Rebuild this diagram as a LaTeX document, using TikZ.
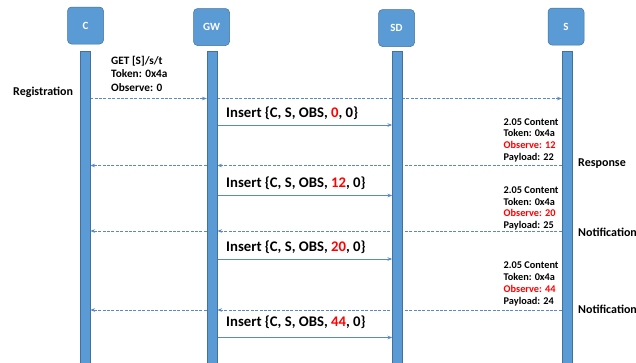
\documentclass[tikz,border=0pt]{standalone}
\usepackage{fontspec}
\setmainfont{Carlito}
\usetikzlibrary{arrows.meta}
\definecolor{boxblue}{HTML}{5B9BD5}
\definecolor{boxedge}{HTML}{41719C}
\definecolor{linkblue}{HTML}{5A8AC6}
\definecolor{obsred}{HTML}{FF0000}
\pgfdeclarelayer{bg}
\pgfsetlayers{bg,main}
\begin{document}
\begin{tikzpicture}[x=1pt,y=-1pt,
  head/.style={draw=boxedge, line width=0.5pt, fill=boxblue, rounded corners=4pt,
    minimum width=36pt, minimum height=37pt, inner sep=0pt, text=white,
    font=\bfseries\fontsize{11}{13}\selectfont},
  lifebar/.style={draw=boxedge, line width=0.3pt, fill=boxblue, minimum width=10pt,
    minimum height=313pt, inner sep=0pt, anchor=north},
  req/.style={linkblue, line width=0.9pt, dash pattern=on 3pt off 1.4pt,
    -{Stealth[length=5pt,width=3.6pt]}},
  ins/.style={linkblue, line width=1pt, -{Stealth[length=5pt,width=3.6pt]}},
  sidelbl/.style={font=\bfseries\fontsize{12}{14}\selectfont, inner sep=0pt, anchor=west},
  getlbl/.style={font=\bfseries\fontsize{11.3}{13.2}\selectfont, inner sep=0pt, anchor=base west},
  resplbl/.style={font=\bfseries\fontsize{10.3}{12}\selectfont, inner sep=0pt, anchor=base west},
  inslbl/.style={font=\bfseries\fontsize{14.7}{17}\selectfont, inner sep=0pt, anchor=west},
]
\useasboundingbox (0,0) rectangle (636,362);

% header boxes
\node[head] (hC)  at (85.5,25.5) {C};
\node[head] (hGW) at (211.5,27) {GW};
\node[head] (hSD) at (396.5,28) {SD};
\node[head] (hS)  at (566,26.5) {S};

% lifeline bars
\node[lifebar] (bC)  at (85,51) {};
\node[lifebar] (bGW) at (212,51) {};
\node[lifebar] (bSD) at (397.5,51) {};
\node[lifebar] (bS)  at (567,51) {};

% message rows
\coordinate (m1) at (0,98.5);
\coordinate (m2) at (0,125);
\coordinate (m3) at (0,165.5);
\coordinate (m4) at (0,195.5);
\coordinate (m5) at (0,231);
\coordinate (m6) at (0,259);
\coordinate (m7) at (0,310);
\coordinate (m8) at (0,337.5);

\begin{pgfonlayer}{bg}
\draw[req] (bC.east |- m1) -- (bGW.west |- m1);
\draw[req] (bGW.east |- m1) -- (bS.west |- m1);
\draw[ins] (bGW.east |- m2) -- (bSD.west |- m2);
\draw[req] (bS.west |- m3) -- (bGW.east |- m3);
\draw[req] (bGW.west |- m3) -- (bC.east |- m3);
\draw[ins] (bGW.east |- m4) -- (bSD.west |- m4);
\draw[req] (bS.west |- m5) -- (bGW.east |- m5);
\draw[req] (bGW.west |- m5) -- (bC.east |- m5);
\draw[ins] (bGW.east |- m6) -- (bSD.west |- m6);
\draw[req] (bS.west |- m7) -- (bGW.east |- m7);
\draw[req] (bGW.west |- m7) -- (bC.east |- m7);
\draw[ins] (bGW.east |- m8) -- (bSD.west |- m8);
\end{pgfonlayer}

% labels
\node[sidelbl] (reg) at (13,92) {Registration};
\node[getlbl] (get1) at (111,64) {GET [S]/s/t};
\node[getlbl] (get2) at (111,77.8) {Token: 0x4a};
\node[getlbl] (get3) at (111,91.6) {Observe: 0};

\node[inslbl] (i1) at (226,113) {Insert \{C, S, OBS, \textcolor{obsred}{0}, 0\}};
\node[inslbl] (i2) at (226,183.5) {Insert \{C, S, OBS, \textcolor{obsred}{12}, 0\}};
\node[inslbl] (i3) at (226,247.5) {Insert \{C, S, OBS, \textcolor{obsred}{20}, 0\}};
\node[inslbl] (i4) at (226,322.5) {Insert \{C, S, OBS, \textcolor{obsred}{44}, 0\}};

\node[resplbl] (r1a) at (503.5,125) {2.05 Content};
\node[resplbl] (r1b) at (503.5,136.8) {Token: 0x4a};
\node[resplbl, text=obsred] (r1c) at (503.5,148.5) {Observe: 12};
\node[resplbl] (r1d) at (503.5,160) {Payload: 22};

\node[resplbl] (r2a) at (503.5,193.2) {2.05 Content};
\node[resplbl] (r2b) at (503.5,205) {Token: 0x4a};
\node[resplbl, text=obsred] (r2c) at (503.5,216.8) {Observe: 20};
\node[resplbl] (r2d) at (503.5,228.5) {Payload: 25};

\node[resplbl] (r3a) at (503.5,268) {2.05 Content};
\node[resplbl] (r3b) at (503.5,280) {Token: 0x4a};
\node[resplbl, text=obsred] (r3c) at (503.5,292.2) {Observe: 44};
\node[resplbl] (r3d) at (503.5,304.2) {Payload: 24};

\node[sidelbl] (resp) at (578,164) {Response};
\node[sidelbl] (not1) at (578,232.5) {Notification};
\node[sidelbl] (not2) at (578,309) {Notification};
\end{tikzpicture}
\end{document}
